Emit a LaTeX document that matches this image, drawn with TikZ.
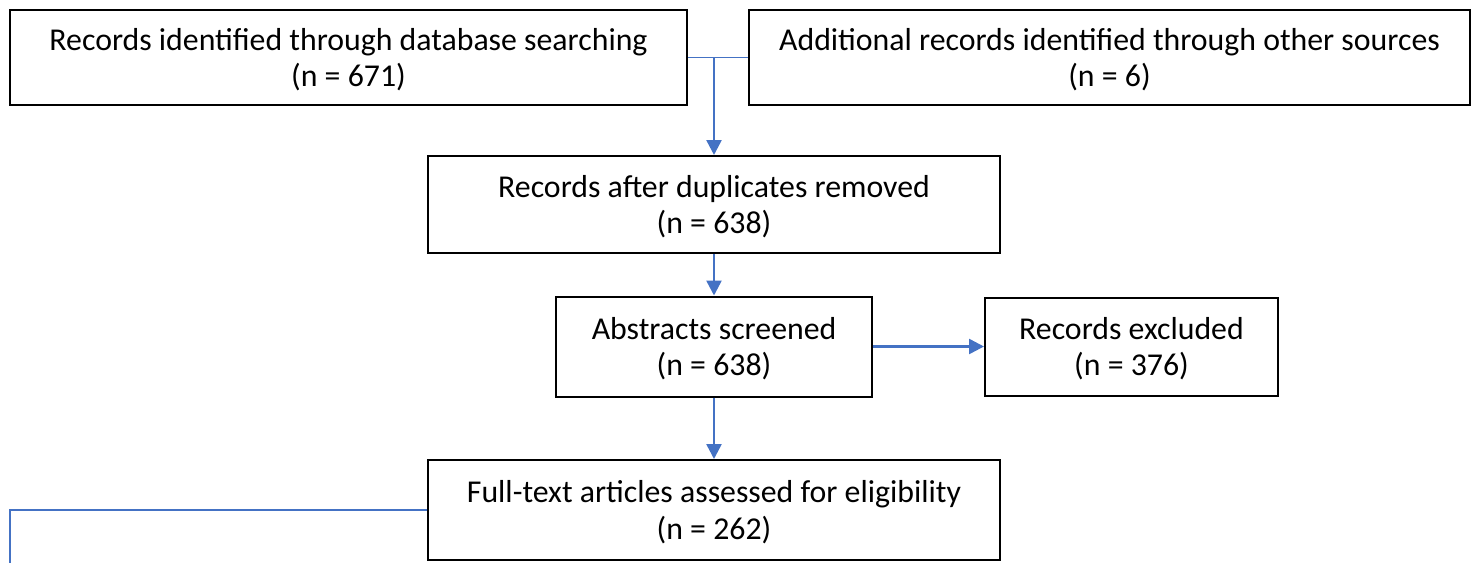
\documentclass[tikz,border=0pt]{standalone}
\usepackage{fontspec}
\setmainfont{Carlito}
\usetikzlibrary{arrows.meta}
\definecolor{linkblue}{HTML}{4472C4}

\begin{document}
\begin{tikzpicture}[x=1pt,y=-1pt,>={Triangle[length=15pt,width=15pt]},
  box/.style={draw,line width=2pt,align=center,inner sep=0pt,text depth=0pt,
    font=\fontsize{31.8}{36.5}\selectfont},
  link/.style={draw=linkblue,line width=2.5pt},
  thin link/.style={draw=linkblue,line width=1.5pt}]
                \useasboundingbox (0,0) rectangle (1474,563);
                \node[box, minimum width=677pt, minimum height=95pt] (search) at (348.5,57.5) {Records identified through database searching\\(n = 671)};
                \node[box, minimum width=721pt, minimum height=95pt] (other) at (1109.5,57.5) {Additional records identified through other sources\\(n = 6)};
                \node[box, minimum width=572pt, minimum height=97pt] (dedup) at (714,204.5) {Records after duplicates removed\\(n = 638)};
                \node[box, minimum width=316pt, minimum height=100pt] (screen) at (714,346.5) {Abstracts screened\\(n = 638)};
                \node[box, minimum width=293pt, minimum height=98pt] (excl) at (1131.5,346.5) {Records excluded\\(n = 376)};
                \node[box, minimum width=572pt, minimum height=100pt] (full) at (714,510) {Full-text articles assessed for eligibility\\(n = 262)};
                \coordinate (join) at (714,57.5);
                \coordinate (down) at (10,563);
                \path[thin link] (search.east) -- (other.west);
                \path[link,->] (join) -- (dedup.north);
                \path[link,->] (dedup) -- (screen);
                \path[link,->] (screen) -- (excl);
                \path[link,->] (screen) -- (full);
                \path[thin link] (full.west) -| (down);
            \end{tikzpicture}
\end{document}
